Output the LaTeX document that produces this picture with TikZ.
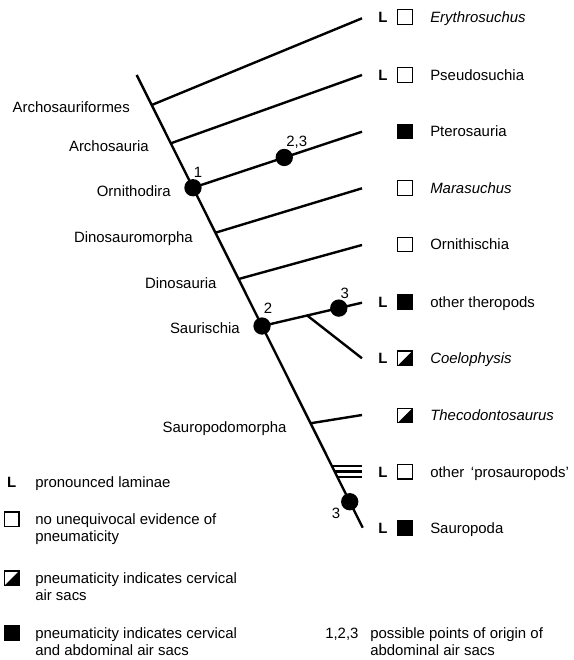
\documentclass[tikz,border=0pt]{standalone}
\usepackage{fontspec}
\setmainfont{Liberation Sans}
\usetikzlibrary{calc}
\begin{document}
\begin{tikzpicture}[x=0.75pt,y=-0.75pt,
  br/.style={line width=1.8pt},
  dot/.style={circle,fill=black,inner sep=0pt,minimum size=13pt},
  lab/.style={inner sep=0pt,font=\fontsize{11.2}{13}\selectfont,text height=8pt,text depth=0pt},
  ilab/.style={lab,font=\fontsize{11.2}{13}\selectfont\itshape},
  Lmark/.style={lab,font=\fontsize{11.2}{13}\selectfont\bfseries},
  sqbox/.style={draw,line width=0.9pt,minimum size=11pt,inner sep=0pt},
  sqE/.style={sqbox},
  sqF/.style={sqbox,fill=black},
  sqH/.style={sqbox,path picture={\fill (path picture bounding box.south west) -- (path picture bounding box.north east) -- (path picture bounding box.south east) -- cycle;}}
]
\useasboundingbox (0,0) rectangle (574,660);
% spine
\coordinate (T) at (136.7,75);
\coordinate (B) at (362.7,527.7);
\draw[br] (T) -- (B);
\coordinate (b1) at ($(T)!0.0663!(B)$);
\coordinate (b2) at ($(T)!0.1509!(B)$);
\coordinate (b4) at ($(T)!0.3484!(B)$);
\coordinate (b5) at ($(T)!0.4507!(B)$);
\coordinate (b8) at ($(T)!0.7693!(B)$);
\coordinate (h1) at ($(T)!0.8637!(B)$);
\coordinate (h2) at ($(T)!0.8759!(B)$);
\coordinate (h3) at ($(T)!0.8880!(B)$);
% tips
\coordinate (tE) at (362,18.3);
\coordinate (tP) at (362,75);
\coordinate (tR) at (362,131.7);
\coordinate (tM) at (362,188.3);
\coordinate (tO) at (362,245);
\coordinate (tT) at (362,302.7);
\coordinate (tC) at (362,358.3);
\coordinate (tH) at (362,415);
% branches
\draw[br] (b1) -- (tE);
\draw[br] (b2) -- (tP);
\node[dot] (n1) at ($(T)!0.2490!(B)$) {};
\draw[br] (n1.center) -- (tR) coordinate[pos=0.54] (pr);
\node[dot] (n23) at (pr) {};
\draw[br] (b4) -- (tM);
\draw[br] (b5) -- (tO);
\node[dot] (n2) at ($(T)!0.5545!(B)$) {};
\draw[br] (n2.center) -- (tT) coordinate[pos=0.768] (th) coordinate[pos=0.452] (cb);
\node[dot] (n3a) at (th) {};
\draw[br] (cb) -- (tC);
\draw[br] (b8) -- (tH);
\draw[br] (h1) -- (h1 -| tH);
\draw[br] (h2) -- (h2 -| tH);
\draw[br] (h3) -- (h3 -| tH);
\node[dot] (n3b) at ($(T)!0.9426!(B)$) {};
% dot labels
\node[lab] (l1) at ($(n1)+(5,-16)$) {1};
\node[lab] (l23) at ($(n23)+(12.5,-16.5)$) {2,3};
\node[lab] (l2) at ($(n2)+(6,-18)$) {2};
\node[lab] (l3a) at ($(n3a)+(6,-15)$) {3};
\node[lab] (l3b) at ($(n3b)+(-13.6,11.3)$) {3};
% clade labels
\node[lab,anchor=east] (c1) at (130,106.7) {Archosauriformes};
\node[lab,anchor=east] (c2) at (149,146) {Archosauria};
\node[lab,anchor=east] (c3) at (171,191) {Ornithodira};
\node[lab,anchor=east] (c4) at (193,236.7) {Dinosauromorpha};
\node[lab,anchor=east] (c5) at (216.7,282.7) {Dinosauria};
\node[lab,anchor=east] (c6) at (240,328.3) {Saurischia};
\node[lab,anchor=east] (c7) at (286.7,426.7) {Sauropodomorpha};
% taxa
\node[Lmark] (LE) at (383,17) {L};
\node[sqE] (sE) at (405,17) {};
\node[ilab,anchor=west] (xE) at (430,17) {Erythrosuchus};
\node[Lmark] (LP) at (383,75) {L};
\node[sqE] (sP) at (405,75) {};
\node[lab,anchor=west] (xP) at (430,75) {Pseudosuchia};
\node[sqF] (sR) at (405,131.5) {};
\node[lab,anchor=west] (xR) at (430,131.5) {Pterosauria};
\node[sqE] (sM) at (405,187.8) {};
\node[ilab,anchor=west] (xM) at (430,187.8) {Marasuchus};
\node[sqE] (sO) at (405,244.5) {};
\node[lab,anchor=west] (xO) at (430,244.5) {Ornithischia};
\node[Lmark] (LT) at (383,302) {L};
\node[sqF] (sT) at (405,302) {};
\node[lab,anchor=west] (xT) at (430,302) {other theropods};
\node[Lmark] (LC) at (383,358.3) {L};
\node[sqH] (sC) at (405,358.3) {};
\node[ilab,anchor=west] (xC) at (430,358.3) {Coelophysis};
\node[sqH] (sH) at (405,415.5) {};
\node[ilab,anchor=west] (xH) at (430,415.5) {Thecodontosaurus};
\node[Lmark] (LQ) at (383,471.7) {L};
\node[sqE] (sQ) at (405,471.7) {};
\node[lab,anchor=west] (xQ) at (430,471.7) {other \,‘prosauropods’};
\node[Lmark] (LS) at (383,527.7) {L};
\node[sqF] (sS) at (405,527.7) {};
\node[lab,anchor=west] (xS) at (430,527.7) {Sauropoda};
% legend
\node[Lmark] (gL) at (11.7,481.7) {L};
\node[lab,anchor=west] (gLt) at (35,481.7) {pronounced laminae};
\node[sqE] (gE) at (11.7,519.3) {};
\node[lab,anchor=west] (gEt1) at (35,519.3) {no unequivocal evidence of};
\node[lab,anchor=west] (gEt2) at (35,536.3) {pneumaticity};
\node[sqH] (gH) at (11.7,578.3) {};
\node[lab,anchor=west] (gHt1) at (35,578.3) {pneumaticity indicates cervical};
\node[lab,anchor=west] (gHt2) at (35,595.3) {air sacs};
\node[sqF] (gF) at (11.7,633.3) {};
\node[lab,anchor=west] (gFt1) at (35,633.3) {pneumaticity indicates cervical};
\node[lab,anchor=west] (gFt2) at (35,650.3) {and abdominal air sacs};
\node[lab,anchor=west] (gN) at (325,633.3) {1,2,3};
\node[lab,anchor=west] (gNt1) at (370,633.3) {possible points of origin of};
\node[lab,anchor=west] (gNt2) at (370,650.3) {abdominal air sacs};
\end{tikzpicture}
\end{document}
